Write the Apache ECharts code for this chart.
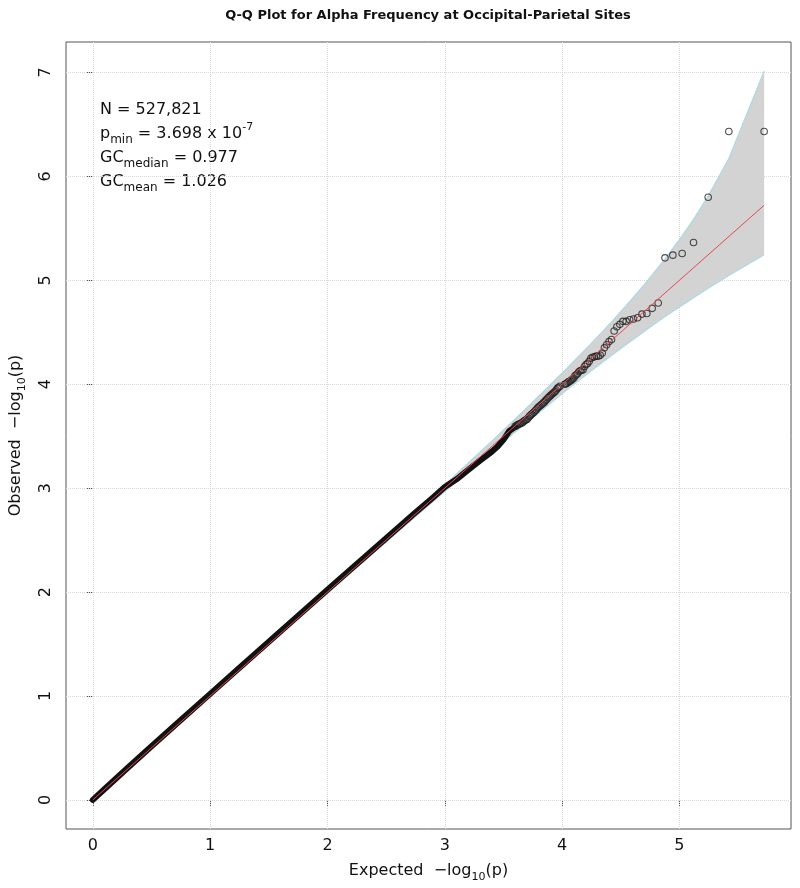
<!DOCTYPE html>
<html><head><meta charset="utf-8">
<script src="https://cdn.jsdelivr.net/npm/echarts@6/dist/echarts.min.js"></script>
<style>html,body{margin:0;padding:0;background:#fff}#c{width:800px;height:888px}</style>
</head><body><div id="c"></div>
<script>
const titleText = 'Q-Q Plot for Alpha Frequency at Occipital-Parietal Sites';
const xTicks = [0, 1, 2, 3, 4, 5];
const yTicks = [0, 1, 2, 3, 4, 5, 6, 7];
const xRange = [-0.2289, 5.9514];
const yRange = [-0.2805, 7.2935];

// 90% confidence band
const ciExpected = [0, 0.7225, 1.7225, 2.7225, 3.0235, 3.4215, 3.7225, 4.0235, 4.2454, 4.4215, 4.5465, 4.7225, 4.8774, 5.0235, 5.1204, 5.2454, 5.4215, 5.7225];
const ciUpper    = [0, 0.725, 1.730, 2.745, 3.056, 3.474, 3.798, 4.132, 4.388, 4.600, 4.757, 4.988, 5.206, 5.428, 5.587, 5.810, 6.172, 7.013];
const ciLower    = [0, 0.720, 1.715, 2.700, 2.992, 3.373, 3.654, 3.929, 4.126, 4.277, 4.382, 4.527, 4.652, 4.761, 4.833, 4.923, 5.047, 5.246];

// dense body of the Q-Q points (drawn as a solid black band)
const denseExpected = [0, 0.1, 0.2, 0.3, 0.5, 0.75, 1.0, 1.25, 1.5, 1.75, 2.0, 2.25, 2.5, 2.75, 2.9, 3.0, 3.1, 3.2, 3.3, 3.4, 3.45, 3.5, 3.55, 3.6];
const denseObserved = [0, 0.104, 0.208, 0.312, 0.515, 0.768, 1.02, 1.272, 1.522, 1.772, 2.022, 2.27, 2.518, 2.765, 2.91, 3.01, 3.085, 3.175, 3.265, 3.35, 3.40, 3.465, 3.55, 3.59];

// chain of overlapping points
const chainExpected = [3.60, 3.61, 3.62, 3.63, 3.64, 3.65, 3.66, 3.67, 3.68, 3.69, 3.70, 3.71, 3.72, 3.73, 3.74, 3.75, 3.76, 3.77, 3.78, 3.79, 3.80, 3.81, 3.82, 3.83, 3.84, 3.85, 3.86, 3.87, 3.88, 3.89, 3.90, 3.91, 3.92, 3.93, 3.94, 3.95, 3.96, 3.97];
const chainObserved = [3.595, 3.60, 3.61, 3.615, 3.62, 3.625, 3.63, 3.64, 3.65, 3.655, 3.66, 3.675, 3.69, 3.70, 3.71, 3.72, 3.73, 3.745, 3.755, 3.77, 3.78, 3.79, 3.80, 3.81, 3.82, 3.83, 3.845, 3.855, 3.87, 3.88, 3.89, 3.90, 3.91, 3.92, 3.93, 3.945, 3.96, 3.97];

// top-ranked individual points
const tailExpected = [5.7225, 5.4215, 5.2454, 5.1204, 5.0235, 4.9443, 4.8774, 4.8194, 4.7682, 4.7225, 4.6811, 4.6433, 4.6086, 4.5764, 4.5465, 4.5184, 4.4921, 4.4672, 4.4437, 4.4215, 4.4003, 4.3801, 4.3608, 4.3423, 4.3246, 4.3075, 4.2911, 4.2753, 4.2601, 4.2454, 4.2312, 4.2174, 4.2040, 4.1910, 4.1784, 4.1661, 4.1543, 4.1427, 4.1314, 4.1204, 4.1097, 4.0993, 4.0891, 4.0791, 4.0693, 4.0598, 4.0504, 4.0413, 4.0323, 4.0235, 3.982];
const tailObserved = [6.432, 6.432, 5.800, 5.364, 5.258, 5.242, 5.216, 4.781, 4.730, 4.680, 4.675, 4.640, 4.627, 4.620, 4.605, 4.605, 4.576, 4.553, 4.512, 4.430, 4.41, 4.38, 4.35, 4.30, 4.28, 4.27, 4.27, 4.265, 4.26, 4.25, 4.22, 4.20, 4.19, 4.17, 4.14, 4.135, 4.13, 4.12, 4.10, 4.09, 4.08, 4.06, 4.05, 4.04, 4.03, 4.025, 4.02, 4.01, 4.005, 4.0, 3.98];

const refLine = [[0, 0], [5.7225, 5.7225]];

const FONT = 'DejaVu Sans';
const INK = '#111';
const zip = (a, b) => a.map((v, i) => [v, b[i]]);
const annRich = {
  a: {fontFamily: FONT, fontSize: 16, fill: INK, lineHeight: 24, verticalAlign: 'middle'},
  s: {fontFamily: FONT, fontSize: 12, fill: INK, lineHeight: 12, verticalAlign: 'bottom'},
  p: {fontFamily: FONT, fontSize: 11, fill: INK, lineHeight: 12, verticalAlign: 'top'}
};
const nameRich = {
  t: {fontFamily: FONT, fontSize: 16, color: INK, lineHeight: 24, verticalAlign: 'middle'},
  s: {fontFamily: FONT, fontSize: 11, color: INK, lineHeight: 11, verticalAlign: 'bottom'}
};

const chart = echarts.init(document.getElementById('c'), null, {renderer: 'canvas'});
chart.setOption({
  animation: false,
  backgroundColor: '#fff',
  grid: {left: 66, right: 9, top: 42, bottom: 58, show: true, borderColor: '#555', borderWidth: 1, backgroundColor: 'transparent'},
  xAxis: {
    type: 'value', min: xRange[0], max: xRange[1],
    axisLine: {show: false},
    axisTick: {show: true, customValues: xTicks, length: 6, lineStyle: {color: '#555'}},
    axisLabel: {customValues: xTicks, fontFamily: FONT, fontSize: 16, color: INK, margin: 9},
    splitLine: {show: false},
    name: '{t|Expected  \u2212log}{s|10}{t|(p)}', nameLocation: 'middle', nameGap: 30,
    nameTextStyle: {rich: nameRich}
  },
  yAxis: {
    type: 'value', min: yRange[0], max: yRange[1],
    axisLine: {show: false},
    axisTick: {show: true, customValues: yTicks, length: 6, lineStyle: {color: '#555'}},
    axisLabel: {customValues: yTicks, fontFamily: FONT, fontSize: 16, color: INK, margin: 12, rotate: 90},
    splitLine: {show: false},
    name: '{t|Observed  \u2212log}{s|10}{t|(p)}', nameLocation: 'middle', nameGap: 38, nameRotate: 90,
    nameTextStyle: {rich: nameRich}
  },
  graphic: [
    {type: 'text', x: 428, y: 9, style: {text: titleText, font: 'bold 13px "DejaVu Sans"', fill: INK, align: 'center', verticalAlign: 'top'}},
    {type: 'text', x: 100, y: 98, style: {text: '{a|N = 527,821}', rich: annRich}},
    {type: 'text', x: 100, y: 121.5, style: {text: '{a|p}{s|min}{a| = 3.698 x 10}{p|-7}', rich: annRich}},
    {type: 'text', x: 100, y: 146, style: {text: '{a|GC}{s|median}{a| = 0.977}', rich: annRich}},
    {type: 'text', x: 100, y: 169.5, style: {text: '{a|GC}{s|mean}{a| = 1.026}', rich: annRich}}
  ],
  series: [
    {
      type: 'line', data: [[0, 0]], symbol: 'none', lineStyle: {opacity: 0}, z: 1, silent: true,
      markLine: {
        z: 1, silent: true, symbol: 'none', label: {show: false}, animation: false,
        lineStyle: {type: 'dotted', color: '#d8d8d8', width: 1},
        data: xTicks.map(v => ({xAxis: v})).concat(yTicks.map(v => ({yAxis: v})))
      }
    },
    {
      type: 'custom', z: 2, silent: true, data: [0],
      renderItem: function (params, api) {
        const up = ciExpected.map((x, i) => api.coord([x, ciUpper[i]]));
        const lo = ciExpected.map((x, i) => api.coord([x, ciLower[i]]));
        const poly = up.concat(lo.slice().reverse());
        return {type: 'group', children: [
          {type: 'polygon', shape: {points: poly}, style: {fill: '#d3d3d3', stroke: null}},
          {type: 'polyline', shape: {points: up}, style: {stroke: '#add8e6', lineWidth: 1.2, fill: null}},
          {type: 'polyline', shape: {points: lo}, style: {stroke: '#add8e6', lineWidth: 1.2, fill: null}}
        ]};
      }
    },
    {
      type: 'line', z: 3, data: zip(denseExpected, denseObserved), symbol: 'none', smooth: false,
      lineStyle: {color: '#111', width: 6, cap: 'round', join: 'round'}
    },
    {
      type: 'scatter', z: 4, data: zip(chainExpected, chainObserved).concat(zip(tailExpected, tailObserved)),
      symbol: 'circle', symbolSize: 6.5,
      itemStyle: {color: 'rgba(0,0,0,0)', borderColor: '#222', borderWidth: 1.1}
    },
    {
      type: 'line', z: 5, data: refLine, symbol: 'none',
      lineStyle: {color: '#e8474f', width: 1}
    }
  ]
});
</script></body></html>
